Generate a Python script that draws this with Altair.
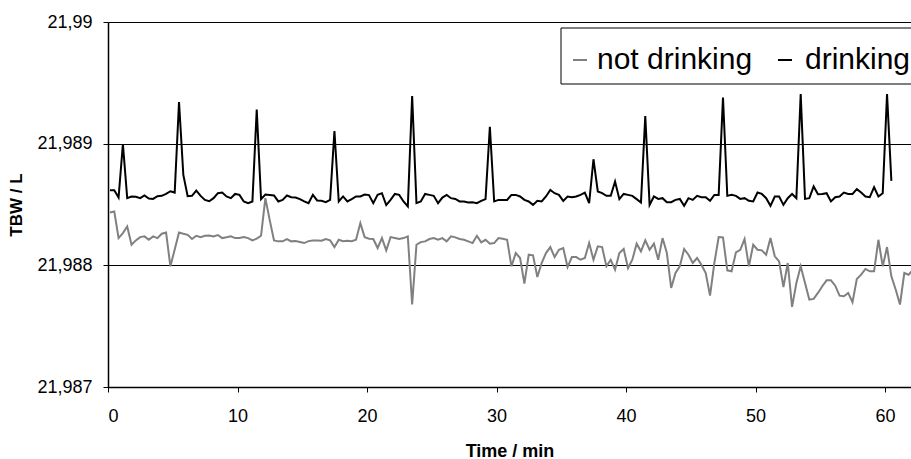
import altair as alt
import pandas as pd

drinking = [
    21.988617, 21.988617, 21.988557, 21.988997, 21.988552, 21.988566, 21.988563, 21.988552,
    21.988574, 21.988549, 21.988546, 21.988568, 21.988571, 21.988587, 21.988609, 21.988598,
    21.989342, 21.988743, 21.988568, 21.988571, 21.988615, 21.988571, 21.988538, 21.988527,
    21.988552, 21.988593, 21.988598, 21.988566, 21.988552, 21.988587, 21.988579, 21.988525,
    21.988511, 21.988525, 21.989281, 21.988544, 21.988582, 21.988579, 21.988574, 21.988525,
    21.988538, 21.988574, 21.988560, 21.988557, 21.988544, 21.988525, 21.988511, 21.988579,
    21.988533, 21.988530, 21.988519, 21.988538, 21.989104, 21.988525, 21.988566, 21.988525,
    21.988544, 21.988566, 21.988566, 21.988582, 21.988577, 21.988511, 21.988579, 21.988593,
    21.988495, 21.988538, 21.988587, 21.988579, 21.988525, 21.988484, 21.989391, 21.988511,
    21.988525, 21.988587, 21.988579, 21.988571, 21.988511, 21.988557, 21.988579, 21.988552,
    21.988546, 21.988525, 21.988525, 21.988516, 21.988519, 21.988511, 21.988530, 21.988544,
    21.989139, 21.988525, 21.988538, 21.988538, 21.988538, 21.988579, 21.988579, 21.988566,
    21.988538, 21.988525, 21.988497, 21.988530, 21.988525, 21.988566, 21.988620, 21.988593,
    21.988579, 21.988530, 21.988566, 21.988560, 21.988566, 21.988579, 21.988598, 21.988511,
    21.988872, 21.988607, 21.988593, 21.988571, 21.988571, 21.988689, 21.988544, 21.988587,
    21.988579, 21.988571, 21.988544, 21.988516, 21.989227, 21.988497, 21.988566, 21.988546,
    21.988552, 21.988519, 21.988519, 21.988538, 21.988546, 21.988489, 21.988552, 21.988538,
    21.988571, 21.988560, 21.988560, 21.988530, 21.988579, 21.988579, 21.989380, 21.988571,
    21.988579, 21.988571, 21.988546, 21.988552, 21.988530, 21.988525, 21.988598, 21.988587,
    21.988552, 21.988489, 21.988566, 21.988566, 21.988497, 21.988552, 21.988587, 21.988552,
    21.989407, 21.988546, 21.988552, 21.988648, 21.988585, 21.988587, 21.988593, 21.988525,
    21.988560, 21.988566, 21.988598, 21.988587, 21.988587, 21.988626, 21.988598, 21.988566,
    21.988560, 21.988642, 21.988566, 21.988593, 21.989407, 21.988694,
]

not_drinking = [
    21.988434, 21.988443, 21.988224, 21.988265, 21.988320, 21.988169, 21.988205, 21.988232,
    21.988238, 21.988210, 21.988238, 21.988224, 21.988260, 21.988270, 21.987992, 21.988131,
    21.988270, 21.988260, 21.988251, 21.988216, 21.988243, 21.988232, 21.988243, 21.988246,
    21.988238, 21.988249, 21.988224, 21.988230, 21.988238, 21.988224, 21.988224, 21.988232,
    21.988224, 21.988205, 21.988219, 21.988243, 21.988552, 21.988374, 21.988205, 21.988197,
    21.988197, 21.988216, 21.988197, 21.988199, 21.988191, 21.988183, 21.988199, 21.988205,
    21.988205, 21.988202, 21.988216, 21.988205, 21.988150, 21.988210, 21.988199, 21.988202,
    21.988199, 21.988210, 21.988347, 21.988232, 21.988219, 21.988216, 21.988142, 21.988224,
    21.988123, 21.988232, 21.988224, 21.988216, 21.988224, 21.988238, 21.987678, 21.988169,
    21.988191, 21.988197, 21.988216, 21.988224, 21.988210, 21.988224, 21.988197, 21.988238,
    21.988230, 21.988216, 21.988210, 21.988197, 21.988183, 21.988243, 21.988189, 21.988210,
    21.988178, 21.988183, 21.988224, 21.988219, 21.988210, 21.987992, 21.988101, 21.988060,
    21.987850, 21.988087, 21.988082, 21.987904, 21.988019, 21.988101, 21.988150, 21.988068,
    21.988128, 21.988142, 21.987986, 21.988068, 21.988068, 21.988046, 21.988060, 21.988183,
    21.988046, 21.988156, 21.988150, 21.987992, 21.988046, 21.987964, 21.988101, 21.988134,
    21.987978, 21.988046, 21.988178, 21.988115, 21.988205, 21.988128, 21.988178, 21.988046,
    21.988224, 21.988101, 21.987814, 21.987937, 21.987992, 21.988134, 21.988087, 21.988019,
    21.988060, 21.988005, 21.987937, 21.987751, 21.988019, 21.988232, 21.988230, 21.987959,
    21.987951, 21.988107, 21.988128, 21.988216, 21.987992, 21.988169, 21.988128, 21.988123,
    21.988087, 21.988224, 21.988074, 21.988033, 21.987822, 21.988019, 21.987658, 21.987855,
    21.987992, 21.987855, 21.987719, 21.987724, 21.987773, 21.987828, 21.987877, 21.987877,
    21.987833, 21.987751, 21.987746, 21.987773, 21.987697, 21.987888, 21.987923, 21.987970,
    21.987951, 21.987951, 21.988210, 21.987992, 21.988150, 21.987910, 21.987801, 21.987678,
    21.987937, 21.987923, 21.987964,
]

series_names = ["not drinking", "drinking"]
series_colors = ["#808080", "#000000"]
x_ticks = [0, 10, 20, 30, 40, 50, 60]
y_ticks = [21.987, 21.988, 21.989, 21.99]

# sample times in minutes (first sample at 0.15 min, one every 20 s)
t_start = 0.15
t_step = 1 / 3

rows = []
for name, values in zip(series_names, [not_drinking, drinking]):
    for k, v in enumerate(values):
        rows.append({"t": round(t_start + k * t_step, 4), "tbw": v, "series": name})
df = pd.DataFrame(rows)

FONT = "Liberation Sans"

lines = alt.Chart(df).mark_line(strokeWidth=2, clip=True).encode(
    x=alt.X(
        "t:Q",
        scale=alt.Scale(domain=[0, 62], nice=False, zero=False),
        axis=alt.Axis(
            title="Time / min",
            values=x_ticks,
            grid=False,
            tickSize=5,
            labelPadding=15,
            labelFontSize=18,
            titleFontSize=18,
            titleFontWeight="bold",
            titlePadding=17,
        ),
    ),
    y=alt.Y(
        "tbw:Q",
        scale=alt.Scale(domain=[21.987, 21.99], nice=False, zero=False),
        axis=alt.Axis(
            title="TBW / L",
            values=y_ticks,
            grid=True,
            gridColor="#000000",
            gridWidth=1,
            gridOpacity=1,
            tickSize=5,
            labelPadding=11,
            labelFontSize=18,
            labelExpr="replace(format(datum.value, '~g'), '.', ',')",
            titleFontSize=17,
            titleFontWeight="bold",
            titlePadding=11,
        ),
    ),
    color=alt.Color(
        "series:N",
        scale=alt.Scale(domain=series_names, range=series_colors),
        legend=None,
    ),
    detail="series:N",
)

# Hand-built legend box (as in the reference, it runs off the right edge)
one_row = alt.Data(values=[{"k": 0}])

legend_box = alt.Chart(one_row).mark_rect(
    fill="#ffffff", stroke="#000000", strokeWidth=1
).encode(
    x=alt.value(453), x2=alt.value(840), y=alt.value(6), y2=alt.value(62)
)

legend_parts = [legend_box]
for name, color, sym_x, text_x in zip(series_names, series_colors, [465, 670], [489, 697]):
    legend_parts.append(
        alt.Chart(one_row).mark_rule(color=color, strokeWidth=2).encode(
            x=alt.value(sym_x), x2=alt.value(sym_x + 14), y=alt.value(38)
        )
    )
    legend_parts.append(
        alt.Chart(one_row).mark_text(
            text=name, align="left", baseline="alphabetic", fontSize=30, font=FONT, color="#000000"
        ).encode(x=alt.value(text_x), y=alt.value(47))
    )

chart = alt.layer(lines, *legend_parts).properties(
    width=803,
    height=365,
    autosize=alt.AutoSizeParams(type="none"),
    padding={"left": 108, "top": 22, "right": 0, "bottom": 72},
).configure(
    font=FONT,
).configure_axis(
    domainColor="#000000",
    domainWidth=1.5,
    tickColor="#000000",
    tickWidth=1,
    labelColor="#000000",
    titleColor="#000000",
    labelFont=FONT,
    titleFont=FONT,
).configure_view(
    stroke=None,
)

chart.save("out.html", embed_options={"renderer": "svg", "actions": False})
